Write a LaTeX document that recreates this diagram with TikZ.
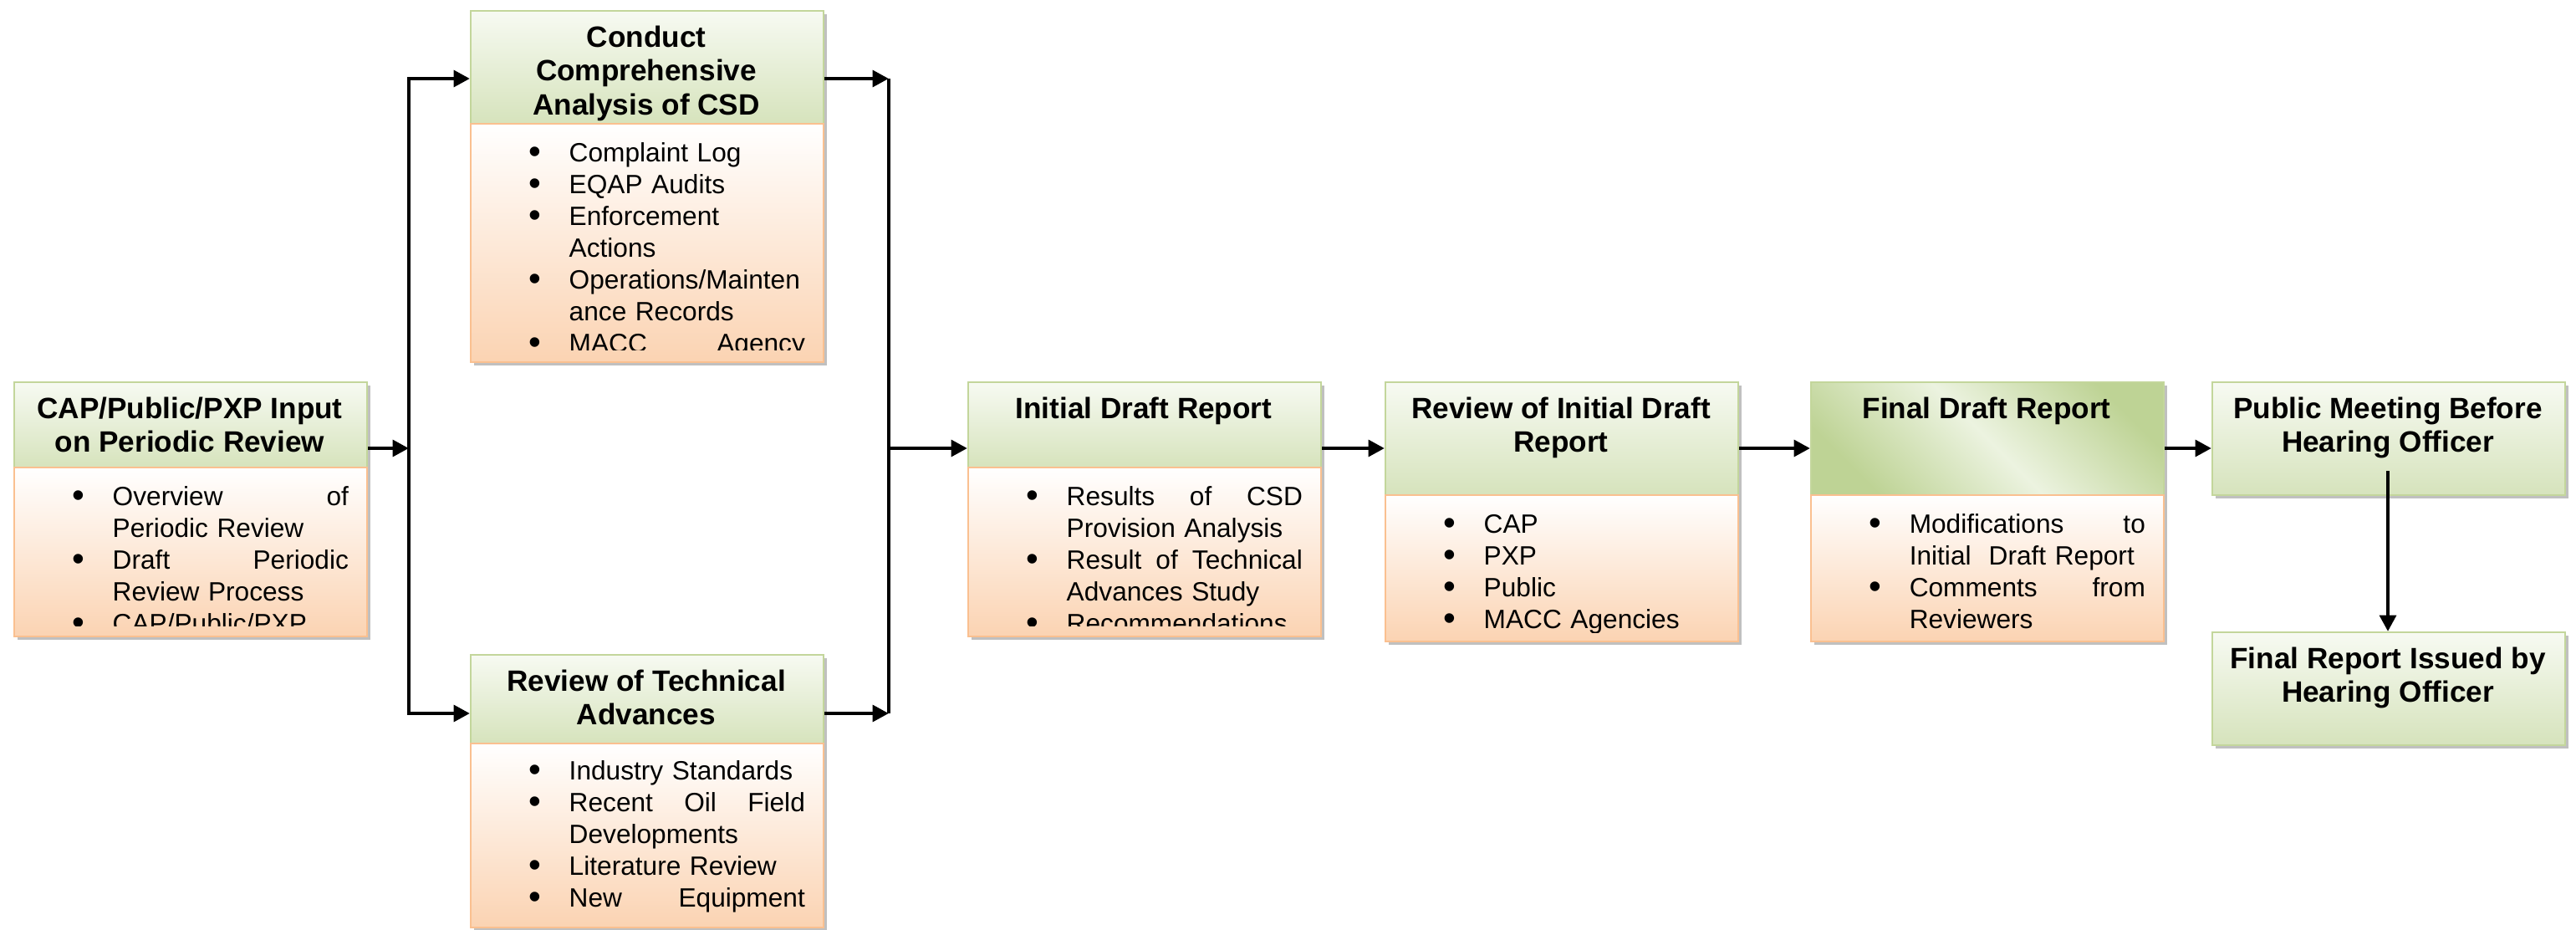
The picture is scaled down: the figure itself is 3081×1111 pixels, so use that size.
\documentclass[tikz,border=0pt]{standalone}
\usepackage{fontspec}
\setmainfont{Liberation Sans}
\usetikzlibrary{arrows.meta,shadows}

\definecolor{hdrline}{RGB}{195,214,155}
\definecolor{hdrtop}{RGB}{247,250,242}
\definecolor{hdrbot}{RGB}{214,227,188}
\definecolor{hdrdark}{RGB}{190,211,149}
\definecolor{hdrlight}{RGB}{236,243,224}
\definecolor{bodyline}{RGB}{250,192,144}
\definecolor{bodybot}{RGB}{251,211,178}

\newcommand{\bitem}{\par\noindent\hangindent=0.48cm\hangafter=1%
  \makebox[0.48cm][l]{\rule{0pt}{6.8pt}\raisebox{-0.5pt}{\fontsize{12}{10}\selectfont\textbullet}}}
\newcommand{\nl}{\hfil\break}

\tikzset{
  boxshadow/.style={drop shadow={shadow xshift=1pt,shadow yshift=-1pt,fill=black!55,opacity=0.45}},
  hdr/.style={draw=hdrline,line width=0.6pt,top color=hdrtop,bottom color=hdrbot,
    minimum width=4.22cm,anchor=north west,inner sep=0pt,boxshadow},
  bodybox/.style={draw=bodyline,line width=0.6pt,top color=white,bottom color=bodybot,
    minimum width=4.22cm,anchor=north west,inner sep=0pt,boxshadow},
  ttl/.style={anchor=north,inner sep=0pt,align=center,
    font=\fontsize{10}{11.6}\selectfont\bfseries,execute at begin node={\rule{0pt}{7.4pt}}},
  lst/.style={anchor=north west,inner sep=0pt,text width=3.30cm,
    font=\fontsize{9}{10.8}\selectfont},
  link/.style={line width=1.4pt},
  arr/.style={link,-{Triangle[length=5.5pt,width=5.5pt]}},
}

\begin{document}
\begin{tikzpicture}[x=0.01cm,y=-0.01cm]
  \useasboundingbox (0,0) rectangle (3081,1111);

  % input box
  \node[hdr,minimum height=1.02cm] (inh) at (16,456) {};
  \node[ttl] (int) at (227,474) {CAP/Public/PXP Input\\on Periodic Review};
  \node[bodybox,minimum height=2.02cm] (inb) at (16,558) {};
  \begin{scope}
    \clip (16,558) rectangle (438,748);
    \node[lst] (inl) at (86,566) {\bitem Overview\hfill of\nl Periodic Review
      \bitem Draft\hfill Periodic\nl Review Process
      \bitem CAP/Public/PXP\par};
  \end{scope}

  % analysis of CSD
  \node[hdr,minimum height=1.35cm] (csdh) at (562,12) {};
  \node[ttl] (csdt) at (773,30) {Conduct\\Comprehensive\\Analysis of CSD};
  \node[bodybox,minimum height=2.85cm] (csdb) at (562,147) {};
  \begin{scope}
    \clip (562,147) rectangle (984,418);
    \node[lst] (csdl) at (632,155) {\bitem Complaint Log
      \bitem EQAP Audits
      \bitem Enforcement\nl Actions
      \bitem Operations/Mainten\nl ance Records
      \bitem MACC\hfill Agency\par};
  \end{scope}

  % technical advances
  \node[hdr,minimum height=1.06cm] (techh) at (562,782) {};
  \node[ttl] (techt) at (773,800) {Review of Technical\\Advances};
  \node[bodybox,minimum height=2.20cm] (techb) at (562,888) {};
  \begin{scope}
    \clip (562,888) rectangle (984,1100);
    \node[lst] (techl) at (632,894) {\bitem Industry Standards
      \bitem Recent\hfill Oil\hfill Field\nl Developments
      \bitem Literature Review
      \bitem New\hfill Equipment\par};
  \end{scope}

  % initial draft report
  \node[hdr,minimum height=1.02cm] (idrh) at (1157,456) {};
  \node[ttl] (idrt) at (1368,474) {Initial Draft Report};
  \node[bodybox,minimum height=2.02cm] (idrb) at (1157,558) {};
  \begin{scope}
    \clip (1157,558) rectangle (1579,748);
    \node[lst] (idrl) at (1227,566) {\bitem Results\hfill of\hfill CSD\nl Provision Analysis
      \bitem Result\hfill of\hfill Technical\nl Advances Study
      \bitem Recommendations\par};
  \end{scope}

  % review of initial draft
  \node[hdr,minimum height=1.35cm] (revh) at (1656,456) {};
  \node[ttl] (revt) at (1867,474) {Review of Initial Draft\\Report};
  \node[bodybox,minimum height=1.75cm] (revb) at (1656,591) {};
  \begin{scope}
    \clip (1656,591) rectangle (2078,756);
    \node[lst] (revl) at (1726,599) {\bitem CAP
      \bitem PXP
      \bitem Public
      \bitem MACC Agencies\par};
  \end{scope}

  % final draft report
  \node[hdr,minimum height=1.35cm,top color=hdrdark,bottom color=hdrdark,
    middle color=hdrlight,shading angle=-45] (fdrh) at (2165,456) {};
  \node[ttl] (fdrt) at (2376,474) {Final Draft Report};
  \node[bodybox,minimum height=1.75cm] (fdrb) at (2165,591) {};
  \begin{scope}
    \clip (2165,591) rectangle (2587,756);
    \node[lst] (fdrl) at (2235,599) {\bitem Modifications\hfill to\nl Initial\ \ Draft Report
      \bitem Comments\hfill from\nl Reviewers\par};
  \end{scope}

  % hearing officer
  \node[hdr,minimum height=1.35cm] (pubh) at (2645,456) {};
  \node[ttl] (pubt) at (2856,474) {Public Meeting Before\\Hearing Officer};
  \node[hdr,minimum height=1.35cm] (finh) at (2645,755) {};
  \node[ttl] (fint) at (2856,773) {Final Report Issued by\\Hearing Officer};

  \coordinate (s1) at (489,94);
  \coordinate (sm) at (489,536);
  \coordinate (s2) at (489,853);
  \coordinate (t1) at (1063,94);
  \coordinate (tm) at (1063,536);
  \coordinate (t2) at (1063,853);
  \coordinate (pd) at (2856,563);

  \draw[arr] (sm -| inh.east) -- (sm);
  \draw[arr] (sm) -- (s1) -- (s1 -| csdh.west);
  \draw[arr] (sm) -- (s2) -- (s2 -| techh.west);
  \draw[link] (t1) -- (t2);
  \draw[arr] (t1 -| csdh.east) -- (t1);
  \draw[arr] (t2 -| techh.east) -- (t2);
  \draw[arr] (tm) -- (tm -| idrh.west);
  \draw[arr] (tm -| idrh.east) -- (tm -| revh.west);
  \draw[arr] (tm -| revh.east) -- (tm -| fdrh.west);
  \draw[arr] (tm -| fdrh.east) -- (tm -| pubh.west);
  \draw[arr] (pd) -- (pd |- finh.north);
\end{tikzpicture}
\end{document}
